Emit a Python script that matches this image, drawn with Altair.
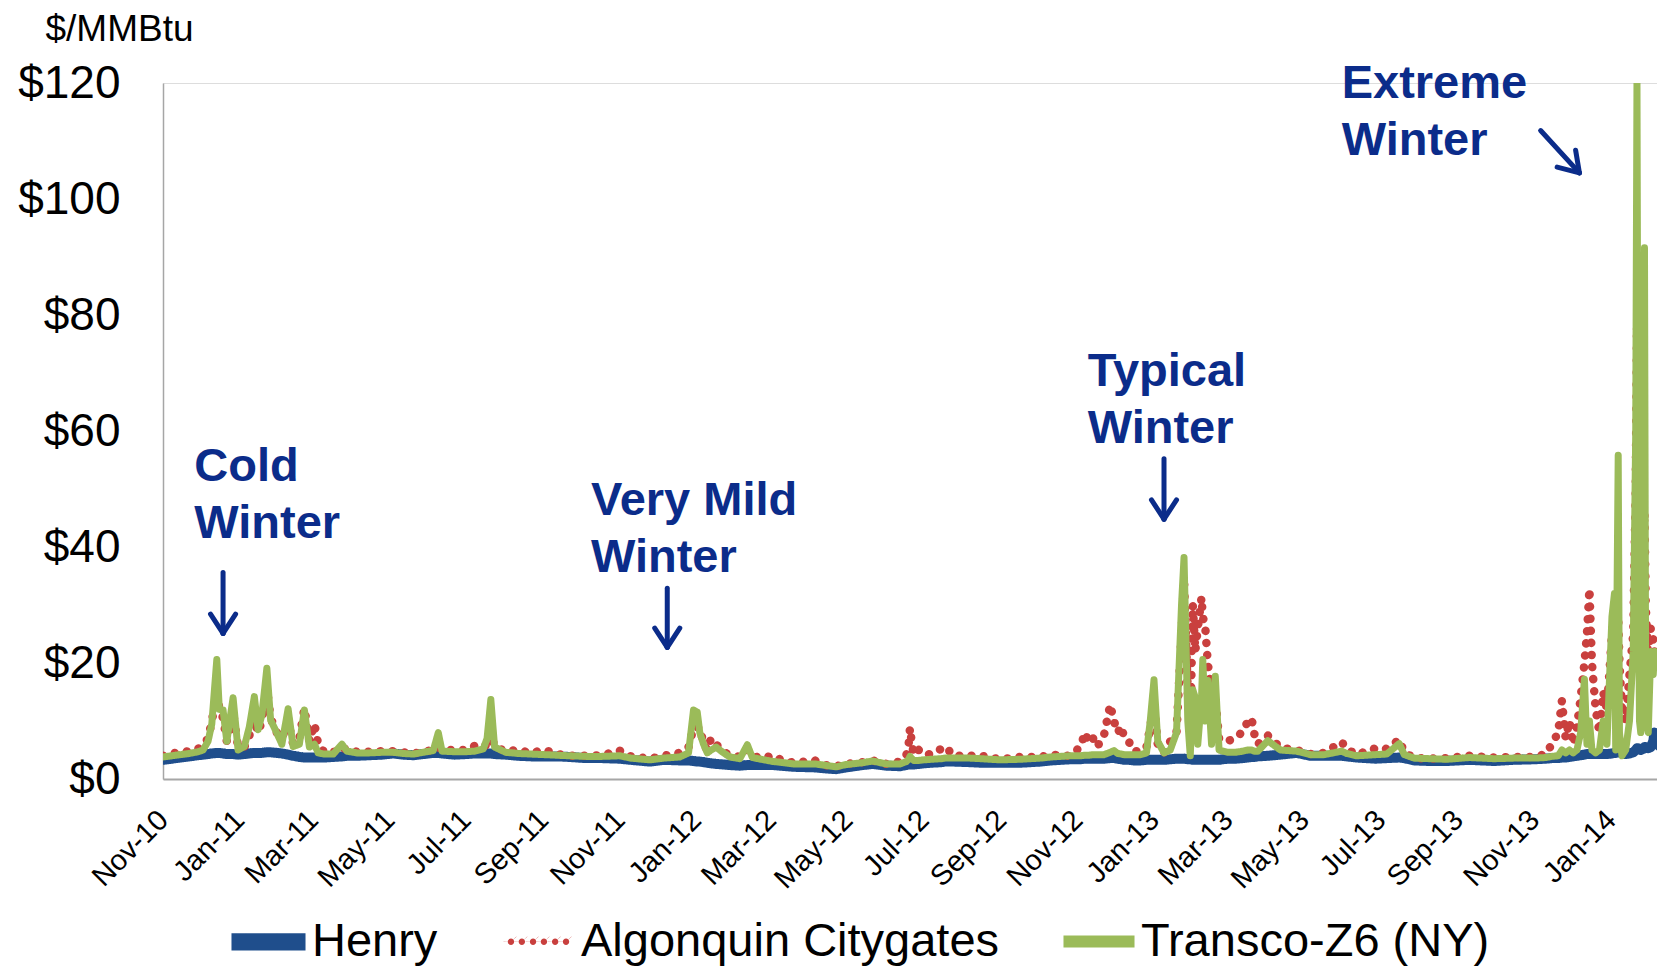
import math
import altair as alt
import pandas as pd

# ---------------- data ----------------
dates = [
    "2010-11-01", "2010-11-08", "2010-11-15", "2010-11-22", "2010-11-29", "2010-12-03", "2010-12-07",
    "2010-12-10", "2010-12-14", "2010-12-16", "2010-12-19", "2010-12-22", "2010-12-27", "2010-12-31",
    "2011-01-05", "2011-01-09", "2011-01-13", "2011-01-16", "2011-01-19", "2011-01-23", "2011-01-26",
    "2011-01-31", "2011-02-04", "2011-02-09", "2011-02-13", "2011-02-18", "2011-02-22", "2011-02-26",
    "2011-03-02", "2011-03-05", "2011-03-10", "2011-03-17", "2011-03-24", "2011-03-28", "2011-04-05",
    "2011-04-15", "2011-04-25", "2011-05-04", "2011-05-12", "2011-05-20", "2011-05-28", "2011-06-05",
    "2011-06-09", "2011-06-12", "2011-06-22", "2011-07-01", "2011-07-08", "2011-07-15", "2011-07-18",
    "2011-07-21", "2011-07-24", "2011-08-02", "2011-08-12", "2011-08-22", "2011-09-02", "2011-09-12",
    "2011-09-22", "2011-10-05", "2011-10-18", "2011-11-01", "2011-11-10", "2011-11-25", "2011-12-06",
    "2011-12-19", "2011-12-26", "2011-12-30", "2012-01-02", "2012-01-04", "2012-01-07", "2012-01-10",
    "2012-01-13", "2012-01-17", "2012-01-23", "2012-01-28", "2012-02-05", "2012-02-11", "2012-02-15",
    "2012-02-22", "2012-03-03", "2012-03-08", "2012-03-19", "2012-04-05", "2012-04-15", "2012-04-22",
    "2012-04-30", "2012-05-13", "2012-05-21", "2012-06-01", "2012-06-12", "2012-06-17", "2012-06-19",
    "2012-06-20", "2012-06-21", "2012-06-23", "2012-06-27", "2012-07-01", "2012-07-07", "2012-07-15",
    "2012-07-18", "2012-07-25", "2012-08-07", "2012-08-16", "2012-08-31", "2012-09-16", "2012-10-02",
    "2012-10-11", "2012-10-26", "2012-11-03", "2012-11-07", "2012-11-10", "2012-11-14", "2012-11-17",
    "2012-11-22", "2012-11-27", "2012-11-30", "2012-12-03", "2012-12-06", "2012-12-08", "2012-12-12",
    "2012-12-16", "2012-12-21", "2012-12-26", "2012-12-29", "2013-01-01", "2013-01-04", "2013-01-09",
    "2013-01-14", "2013-01-19", "2013-01-23", "2013-01-25", "2013-01-28", "2013-01-30", "2013-02-01",
    "2013-02-03", "2013-02-05", "2013-02-08", "2013-02-09", "2013-02-11", "2013-02-13", "2013-02-16",
    "2013-02-19", "2013-02-22", "2013-02-25", "2013-03-01", "2013-03-07", "2013-03-13", "2013-03-17",
    "2013-03-20", "2013-03-22", "2013-03-25", "2013-04-02", "2013-04-12", "2013-04-25", "2013-05-06",
    "2013-05-17", "2013-05-31", "2013-06-04", "2013-06-12", "2013-06-27", "2013-07-06", "2013-07-16",
    "2013-07-20", "2013-07-28", "2013-08-10", "2013-08-23", "2013-09-10", "2013-09-30", "2013-10-15",
    "2013-11-01", "2013-11-10", "2013-11-15", "2013-11-20", "2013-11-23", "2013-11-26", "2013-11-29",
    "2013-12-02", "2013-12-05", "2013-12-08", "2013-12-11", "2013-12-13", "2013-12-15", "2013-12-17",
    "2013-12-20", "2013-12-23", "2013-12-26", "2013-12-29", "2014-01-02", "2014-01-04", "2014-01-05",
    "2014-01-07", "2014-01-08", "2014-01-10", "2014-01-13", "2014-01-16", "2014-01-19", "2014-01-21",
    "2014-01-22", "2014-01-23", "2014-01-24", "2014-01-25", "2014-01-27", "2014-01-28", "2014-01-29",
    "2014-01-31", "2014-02-02", "2014-02-04", "2014-02-05", "2014-02-07", "2014-02-10",
]

henry = [
    3.3, 3.5, 3.7, 3.9, 4.1, 4.2, 4.3,
    4.4, 4.5, 4.5, 4.4, 4.3, 4.3, 4.2,
    4.3, 4.4, 4.5, 4.5, 4.5, 4.6, 4.6,
    4.5, 4.4, 4.2, 4.0, 3.8, 3.7, 3.7,
    3.7, 3.7, 3.7, 3.8, 3.9, 4.0, 4.0,
    4.1, 4.2, 4.4, 4.2, 4.1, 4.3, 4.5,
    4.5, 4.4, 4.2, 4.3, 4.4, 4.4, 4.4,
    4.4, 4.3, 4.2, 4.0, 3.9, 3.9, 3.9,
    3.8, 3.6, 3.6, 3.5, 3.3, 3.0, 3.3,
    3.2, 3.2, 3.1, 3.0, 3.0, 2.9, 2.8,
    2.7, 2.6, 2.5, 2.4, 2.3, 2.4, 2.4,
    2.4, 2.4, 2.3, 2.1, 2.0, 1.8, 1.7,
    2.0, 2.4, 2.6, 2.3, 2.2, 2.4, 2.5,
    2.5, 2.5, 2.5, 2.6, 2.7, 2.8, 2.9,
    3.0, 3.0, 2.9, 2.8, 2.8, 2.8, 3.0,
    3.2, 3.4, 3.4, 3.5, 3.5, 3.5, 3.5,
    3.5, 3.6, 3.6, 3.5, 3.4, 3.3, 3.3,
    3.2, 3.2, 3.3, 3.3, 3.3, 3.3, 3.3,
    3.4, 3.5, 3.5, 3.5, 3.4, 3.4, 3.3,
    3.3, 3.3, 3.3, 3.3, 3.3, 3.3, 3.3,
    3.3, 3.3, 3.4, 3.5, 3.5, 3.6, 3.7,
    3.8, 3.8, 3.9, 4.0, 4.2, 4.5, 4.0,
    4.0, 4.0, 3.9, 3.7, 3.5, 3.6, 3.7,
    3.6, 3.2, 3.1, 3.1, 3.3, 3.1, 3.3,
    3.4, 3.5, 3.6, 3.6, 3.7, 3.7, 3.8,
    3.9, 4.0, 4.1, 4.2, 4.3, 4.3, 4.3,
    4.3, 4.3, 4.3, 4.3, 4.4, 4.5, 4.5,
    4.8, 4.6, 4.4, 4.3, 4.4, 4.6, 5.0,
    5.3, 5.3, 5.2, 5.0, 5.2, 5.5, 5.5,
    5.3, 5.5, 6.5, 8.0, 6.0, 5.5,
]

algonquin = [
    4.0, 4.4, 4.6, 4.8, 5.2, 5.9, 7.0,
    9.9, 14.8, 12.2, 10.5, 6.5, 11.5, 5.5,
    5.5, 7.5, 10.2, 8.0, 10.0, 15.7, 10.5,
    8.0, 7.0, 10.0, 6.0, 7.0, 12.2, 6.5,
    9.5, 6.0, 4.6, 4.6, 5.5, 5.0, 4.7,
    4.7, 4.8, 4.8, 4.6, 4.4, 4.7, 5.0,
    5.5, 5.0, 5.0, 5.0, 5.7, 5.5, 6.0,
    8.0, 5.5, 4.8, 5.0, 4.5, 5.0, 4.3,
    4.0, 4.0, 4.1, 4.9, 3.9, 3.5, 4.0,
    4.5, 5.5, 8.8, 8.8, 9.0, 6.0, 5.0,
    7.0, 6.0, 4.6, 4.2, 3.8, 5.0, 4.0,
    3.6, 4.0, 3.4, 2.8, 3.2, 2.3, 2.2,
    2.6, 2.9, 3.2, 2.6, 3.0, 4.0, 6.2,
    8.8, 7.0, 4.2, 5.0, 4.2, 4.3, 5.2,
    5.6, 4.0, 4.0, 4.0, 3.4, 3.8, 3.8,
    4.2, 4.0, 5.5, 8.0, 6.2, 7.1, 5.7,
    7.5, 12.8, 10.0, 8.0, 9.1, 7.2, 6.4,
    4.8, 4.8, 5.5, 9.0, 13.1, 6.0, 4.5,
    6.5, 8.0, 25.0, 34.4, 15.0, 8.0, 30.1,
    22.0, 26.0, 31.3, 28.0, 26.1, 20.0, 15.0,
    14.0, 7.0, 7.0, 6.5, 7.2, 8.1, 10.0,
    10.5, 7.9, 6.0, 7.5, 5.4, 5.0, 4.3,
    4.5, 6.4, 5.2, 4.2, 5.3, 5.2, 6.8,
    4.6, 3.6, 3.5, 3.6, 4.0, 3.7, 3.8,
    3.8, 4.3, 6.0, 8.0, 13.5, 7.0, 10.0,
    6.0, 9.0, 14.0, 20.0, 25.0, 32.8, 20.0,
    12.0, 8.0, 15.0, 12.0, 25.0, 30.0, 18.0,
    28.0, 20.0, 12.0, 10.0, 18.0, 25.0, 50.0,
    78.0, 70.0, 50.0, 35.0, 40.0, 46.0, 30.0,
    20.0, 26.0, 24.0, 22.0, 20.0, 22.0,
]

transco = [
    3.8, 4.0, 4.2, 4.4, 4.7, 5.0, 6.5,
    9.5, 20.6, 12.0, 11.9, 6.5, 14.0, 5.0,
    5.6, 9.0, 14.2, 8.5, 11.0, 19.1, 10.2,
    7.9, 6.0, 12.1, 5.6, 6.0, 11.9, 5.5,
    6.0, 4.5, 4.3, 4.3, 6.0, 4.8, 4.5,
    4.5, 4.6, 4.6, 4.4, 4.3, 4.6, 4.9,
    8.0, 4.8, 4.7, 4.7, 4.8, 5.2, 7.0,
    13.7, 5.5, 4.6, 4.4, 4.3, 4.2, 4.1,
    4.0, 3.9, 3.9, 4.0, 3.6, 3.3, 3.6,
    3.8, 4.5, 11.9, 11.5, 8.0, 6.0, 4.5,
    5.0, 5.5, 4.5, 3.8, 3.5, 5.9, 3.7,
    3.4, 3.0, 2.9, 2.6, 2.6, 2.3, 2.1,
    2.5, 2.8, 3.1, 2.6, 2.6, 3.0, 3.4,
    3.9, 3.6, 3.2, 3.2, 3.3, 3.4, 3.5,
    3.6, 3.6, 3.6, 3.5, 3.3, 3.4, 3.6,
    3.8, 4.0, 4.0, 4.1, 4.1, 4.2, 4.2,
    4.2, 4.6, 4.9, 4.4, 4.3, 4.2, 4.2,
    4.2, 4.2, 4.5, 10.0, 17.1, 6.5, 4.5,
    5.0, 8.0, 30.0, 38.2, 10.0, 4.0, 15.4,
    14.0, 6.0, 14.0, 20.6, 10.0, 17.0, 6.0,
    17.7, 5.0, 4.8, 4.6, 4.6, 4.8, 5.0,
    5.0, 4.8, 4.8, 6.6, 5.0, 4.8, 4.2,
    4.2, 4.8, 4.4, 4.0, 4.2, 4.3, 6.1,
    4.2, 3.6, 3.5, 3.4, 3.7, 3.5, 3.6,
    3.6, 3.7, 3.9, 4.0, 5.0, 4.5, 5.0,
    4.5, 5.0, 8.0, 17.2, 6.0, 10.0, 5.0,
    4.5, 5.0, 10.0, 6.0, 28.0, 32.0, 5.0,
    55.8, 8.0, 4.0, 5.0, 10.0, 22.0, 60.0,
    120.5, 40.0, 10.0, 8.0, 30.0, 91.6, 10.0,
    8.0, 22.0, 18.0, 22.0, 20.0, 21.0,
]

series_names = ["Henry", "Algonquin Citygates", "Transco-Z6 (NY)"]
series_colors = ["#1F4E8C", "#C9403E", "#9BBB59"]
tick_labels = ["Nov-10", "Jan-11", "Mar-11", "May-11", "Jul-11", "Sep-11", "Nov-11",
               "Jan-12", "Mar-12", "May-12", "Jul-12", "Sep-12", "Nov-12", "Jan-13",
               "Mar-13", "May-13", "Jul-13", "Sep-13", "Nov-13", "Jan-14"]
y_ticks = [0, 20, 40, 60, 80, 100, 120]

# annotations (text, anchor date, baseline value)
note_text = ["Cold\nWinter", "Very Mild\nWinter", "Typical\nWinter", "Extreme\nWinter"]
note_date = ["2010-11-26", "2011-10-09", "2012-11-09", "2013-05-31"]
note_value = [51.4, 45.5, 67.7, 117.5]

# arrows: start (date, value) -> tip (date, value)
arrow_start_date = ["2010-12-19", "2011-12-09", "2013-01-09", "2013-11-06"]
arrow_start_value = [35.6, 32.9, 55.2, 111.8]
arrow_tip_date = ["2010-12-19", "2011-12-09", "2013-01-09", "2013-12-07"]
arrow_tip_value = [25.1, 22.7, 44.8, 104.5]

# ---------------- build tables ----------------
rows = []
for name, vals in zip(series_names, [henry, algonquin, transco]):
    for d, v in zip(dates, vals):
        rows.append({"date": d, "series": name, "value": v})
df = pd.DataFrame(rows)

# layout constants (pixels)
W, H = 1494, 696
DOMAIN_DAYS = (pd.Timestamp("2014-02-07") - pd.Timestamp("2010-11-01")).days
PX_PER_DAY = W / DOMAIN_DAYS
PX_PER_DOLLAR = H / 120.0

seg = []
for sd, sv, td, tv in zip(arrow_start_date, arrow_start_value, arrow_tip_date, arrow_tip_value):
    seg.append({"d1": sd, "v1": sv, "d2": td, "v2": tv})
    t0 = pd.Timestamp(td)
    s0 = pd.Timestamp(sd)
    dx = (s0 - t0).days * PX_PER_DAY
    dy = -(sv - tv) * PX_PER_DOLLAR  # screen y (down positive)
    L = math.hypot(dx, dy)
    ux, uy = dx / L, dy / L
    for ang in (33, -33):
        a = math.radians(ang)
        wx = ux * math.cos(a) - uy * math.sin(a)
        wy = ux * math.sin(a) + uy * math.cos(a)
        hl = 23
        ex = t0 + pd.Timedelta(days=wx * hl / PX_PER_DAY)
        ev = tv - wy * hl / PX_PER_DOLLAR
        seg.append({"d1": td, "v1": tv, "d2": ex.strftime("%Y-%m-%dT%H:%M:%S"), "v2": ev})
arrows_df = pd.DataFrame(seg)

notes_df = pd.DataFrame({"date": note_date, "value": note_value, "text": note_text})


# legend symbols as unit SVG paths (x in [-1, 1])
def dot(cx, r=0.1):
    return (f"M{cx - r:.3f},0a{r},{r} 0 1,0 {2 * r},0a{r},{r} 0 1,0 {-2 * r},0")


legend_paths = [
    "M-1,-0.115H1V0.115H-1Z",
    "".join(dot(c) for c in (-0.86, -0.52, -0.17, 0.17, 0.52, 0.86)),
    "M-1,-0.075H1V0.075H-1Z",
]

FONT = "Liberation Sans"
NAVY_TXT = "#0B2C8A"

x_scale = alt.Scale(type="utc",
                    domain=[alt.DateTime(year=2010, month=11, date=1, utc=True),
                            alt.DateTime(year=2014, month=2, date=7, utc=True)],
                    nice=False)
y_scale = alt.Scale(domain=[0, 120], nice=False)

tick_values = []
for lab in tick_labels:
    mon, yy = lab.split("-")
    tick_values.append(alt.DateTime(year=2000 + int(yy), month=mon, date=1, utc=True))

x_axis = alt.Axis(values=tick_values, labelExpr="utcFormat(datum.value, '%b-%y')",
                  labelAngle=-45, labelAlign="right", labelBaseline="middle",
                  labelFontSize=29, labelPadding=36, labelColor="#000000",
                  labelFont=FONT, ticks=False, grid=False, title=None,
                  domainColor="#A6A6A6", domainWidth=2, labelOverlap=False)
y_axis = alt.Axis(values=y_ticks, labelExpr="'$' + datum.value", labelFontSize=46,
                  labelFont=FONT, labelColor="#000000", labelPadding=43, ticks=False,
                  grid=False, domainColor="#A6A6A6", domainWidth=1.5,
                  title="$/MMBtu", titleAngle=0, titleAlign="left", titleBaseline="alphabetic",
                  titleX=-118, titleY=-43, titleFontSize=37, titleFontWeight="normal",
                  titleFont=FONT, titleColor="#000000")

color_scale = alt.Scale(domain=series_names, range=series_colors)
opacity_scale = alt.Scale(domain=series_names, range=[1, 1, 0.7])

legend = alt.Legend(orient="none", legendX=68, legendY=821, direction="horizontal",
                    title=None, labelFontSize=47, labelFont=FONT, labelColor="#000000",
                    symbolSize=4100, columnPadding=52, labelOffset=6, labelLimit=0,
                    padding=0, symbolStrokeWidth=0)

# legend-only layer (no rows drawn), first so that its legend wins the merge
legend_layer = alt.Chart(df).transform_filter("false").mark_point(filled=True).encode(
    x=alt.X("date:T", scale=x_scale, axis=x_axis),
    y=alt.Y("value:Q", scale=y_scale, axis=y_axis),
    color=alt.Color("series:N", scale=color_scale, legend=legend),
    shape=alt.Shape("series:N", scale=alt.Scale(domain=series_names, range=legend_paths),
                    legend=legend),
    opacity=alt.Opacity("series:N", scale=opacity_scale, legend=legend),
)

line_enc = dict(
    x=alt.X("date:T", scale=x_scale, axis=x_axis),
    y=alt.Y("value:Q", scale=y_scale, axis=y_axis),
    color=alt.Color("series:N", scale=color_scale),
    strokeDash=alt.StrokeDash("series:N",
                              scale=alt.Scale(domain=series_names,
                                              range=[[1, 0], [0.1, 12], [1, 0]]),
                              legend=None),
    strokeWidth=alt.StrokeWidth("series:N",
                                scale=alt.Scale(domain=series_names, range=[10, 7, 6.5]),
                                legend=None),
    opacity=alt.Opacity("series:N", scale=opacity_scale),
)

layers = []
for name in series_names:
    layers.append(
        alt.Chart(df).transform_filter(alt.datum.series == name)
        .mark_line(strokeCap="round", strokeJoin="round", clip=True)
        .encode(**line_enc)
    )

arrows = alt.Chart(arrows_df).mark_rule(color=NAVY_TXT, strokeWidth=5,
                                        strokeCap="round").encode(
    x=alt.X("d1:T", scale=x_scale), x2="d2:T",
    y=alt.Y("v1:Q", scale=y_scale), y2="v2:Q")

notes = alt.Chart(notes_df).mark_text(align="left", baseline="alphabetic", fontSize=47,
                                      fontWeight="bold", font=FONT, color=NAVY_TXT,
                                      lineBreak="\n", lineHeight=57).encode(
    x=alt.X("date:T", scale=x_scale), y=alt.Y("value:Q", scale=y_scale), text="text:N")

chart = alt.layer(legend_layer, *layers, arrows, notes).properties(
    width=W, height=H,
    autosize=alt.AutoSizeParams(type="none"),
    padding={"left": 155, "top": 75, "right": 0, "bottom": 187},
).configure_view(stroke=None).configure(font=FONT)

chart.save("out.html", embed_options={"renderer": "svg", "actions": False})
